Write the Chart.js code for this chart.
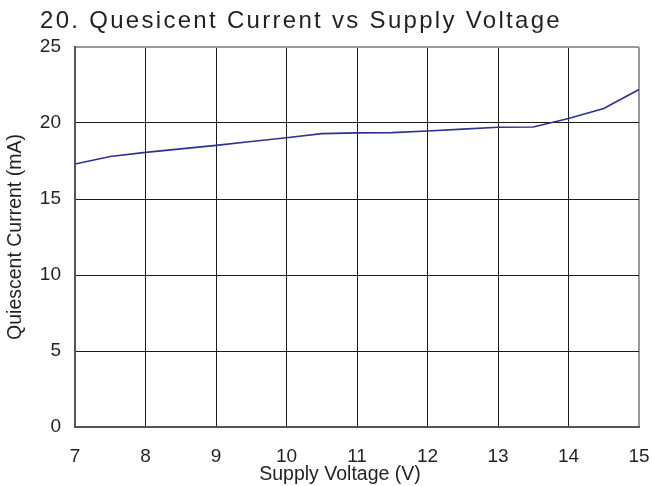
<!DOCTYPE html>
<html>
<head>
<meta charset="utf-8">
<script src="https://cdn.jsdelivr.net/npm/chart.js@4"></script>
<style>
  html, body { margin: 0; padding: 0; background: #fff; }
  #wrap { width: 652px; height: 486px; position: relative; }
</style>
</head>
<body>
<div id="wrap"><canvas id="currentChart" width="652" height="486"></canvas></div>
<script>
// supply voltage (V) and quiescent current (mA)
var voltage = [7, 7.5, 8, 8.5, 9, 9.5, 10, 10.5, 11, 11.5, 12, 12.5, 13, 13.5, 14, 14.5, 15];
var current = [17.3, 17.8, 18.07, 18.3, 18.53, 18.78, 19.03, 19.3, 19.35, 19.37, 19.47, 19.6, 19.72, 19.74, 20.3, 20.95, 22.2];
var xTicks = [7, 8, 9, 10, 11, 12, 13, 14, 15];
var yTicks = [0, 5, 10, 15, 20, 25];

var titleText = '20. Quesicent Current vs Supply Voltage';
var xTitle = 'Supply Voltage (V)';
var yTitle = 'Quiescent Current (mA)';

var points = voltage.map(function (v, i) { return { x: v, y: current[i] }; });

// title and axis names drawn by hand so they sit where the original has them
var textPlugin = {
    id: 'textPlugin',
    afterDraw: function (chart) {
        var c = chart.ctx;
        c.save();
        c.fillStyle = '#231f20';
        c.font = '24px "Liberation Sans", Arial, sans-serif';
        c.textAlign = 'left';
        c.textBaseline = 'alphabetic';
        if (c.letterSpacing !== undefined) c.letterSpacing = '2.3px';
        c.fillText(titleText, 40, 28);
        if (c.letterSpacing !== undefined) c.letterSpacing = '0px';

        c.font = '19.5px "Liberation Sans", Arial, sans-serif';
        c.textAlign = 'center';
        c.fillText(xTitle, 340, 480);

        c.translate(21, 237);
        c.rotate(-Math.PI / 2);
        c.fillText(yTitle, 0, 0);
        c.restore();
    }
};

var ctx = document.getElementById('currentChart').getContext('2d');
var chart = new Chart(ctx, {
    type: 'line',
    data: {
        datasets: [{
            data: points,
            borderColor: '#2e3192',
            borderWidth: 1.6,
            pointRadius: 0,
            tension: 0,
            fill: false
        }]
    },
    options: {
        responsive: false,
        animation: false,
        layout: { padding: { top: 47, right: 13, left: 0, bottom: 0 } },
        plugins: {
            legend: { display: false },
            tooltip: { enabled: false }
        },
        scales: {
            x: {
                type: 'linear',
                min: 7,
                max: 15,
                afterBuildTicks: function (scale) {
                    scale.ticks = xTicks.map(function (v) { return { value: v }; });
                },
                afterFit: function (scale) {
                    scale.height = 59;
                    scale.paddingLeft = 0;
                    scale.paddingRight = 0;
                },
                ticks: {
                    color: '#231f20',
                    font: { family: '"Liberation Sans", Arial, sans-serif', size: 19 },
                    padding: 18,
                    maxRotation: 0
                },
                grid: {
                    color: function (c) { return c.tick && c.tick.value === 15 ? '#9a9a9a' : '#1a1a1a'; },
                    lineWidth: function (c) { return c.tick && c.tick.value === 15 ? 2 : 1; },
                    drawTicks: false
                },
                border: { color: '#555', width: 2 }
            },
            y: {
                min: 0,
                max: 25,
                afterBuildTicks: function (scale) {
                    scale.ticks = yTicks.map(function (v) { return { value: v }; });
                },
                afterFit: function (scale) {
                    scale.width = 75;
                    scale.paddingTop = 0;
                    scale.paddingBottom = 0;
                },
                ticks: {
                    color: '#231f20',
                    font: { family: '"Liberation Sans", Arial, sans-serif', size: 19 },
                    padding: 14
                },
                grid: {
                    color: function (c) { return c.tick && c.tick.value === 25 ? '#9a9a9a' : '#1a1a1a'; },
                    lineWidth: function (c) { return c.tick && c.tick.value === 25 ? 2 : 1; },
                    drawTicks: false
                },
                border: { color: '#555', width: 2 }
            }
        }
    },
    plugins: [textPlugin]
});
</script>
</body>
</html>
